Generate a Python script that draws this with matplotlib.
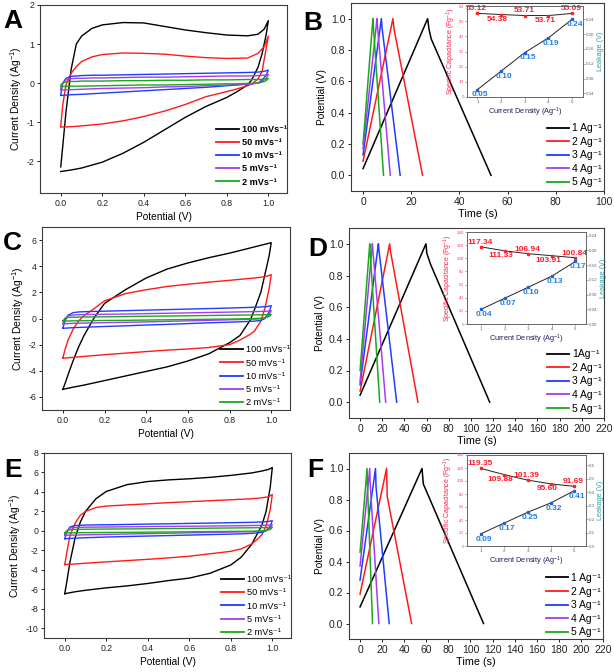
import matplotlib
matplotlib.use("Agg")
import matplotlib.pyplot as plt
import numpy as np

plt.rcParams['font.family'] = ['Liberation Sans', 'DejaVu Sans']
plt.rcParams['mathtext.fontset'] = 'custom'
plt.rcParams['mathtext.rm'] = 'Liberation Sans'
plt.rcParams['mathtext.it'] = 'Liberation Sans:italic'
plt.rcParams['mathtext.bf'] = 'Liberation Sans:bold'

COLORS = ['#000000', '#ff1a1a', '#1f3cff', '#a63cf0', '#1aa81a']

# ---------------- CV data (potential grid for forward / reverse sweep) ----------------
V_UP = [0.0, 0.01, 0.025, 0.05, 0.075, 0.1, 0.15, 0.2, 0.3, 0.4, 0.5, 0.6, 0.7, 0.8, 0.9, 0.95, 0.98, 1.0]
V_DN = [1.0, 0.99, 0.97, 0.95, 0.92, 0.9, 0.85, 0.8, 0.7, 0.6, 0.5, 0.4, 0.3, 0.2, 0.1, 0.05, 0.0]
CV_RATES = ['100', '50', '10', '5', '2']

A_UP = [
    [-2.15, -1.6, -0.75, 0.35, 1.0, 1.2, 1.4, 1.49, 1.55, 1.54, 1.45, 1.36, 1.29, 1.23, 1.21, 1.25, 1.38, 1.6],
    [-1.1, -0.55, -0.05, 0.25, 0.42, 0.55, 0.67, 0.73, 0.77, 0.76, 0.74, 0.69, 0.65, 0.63, 0.64, 0.76, 0.93, 1.2],
    [-0.3, 0.0, 0.12, 0.17, 0.18, 0.19, 0.2, 0.2, 0.21, 0.22, 0.23, 0.24, 0.25, 0.26, 0.27, 0.28, 0.3, 0.33],
    [-0.15, 0.0, 0.08, 0.11, 0.12, 0.12, 0.13, 0.13, 0.14, 0.15, 0.15, 0.16, 0.17, 0.18, 0.18, 0.19, 0.2, 0.22],
    [-0.05, 0.0, 0.03, 0.04, 0.04, 0.05, 0.05, 0.05, 0.06, 0.06, 0.07, 0.07, 0.08, 0.08, 0.09, 0.09, 0.1, 0.12],
]
A_DN = [
    [1.6, 1.25, 0.75, 0.4, 0.08, -0.05, -0.22, -0.37, -0.6, -0.88, -1.2, -1.52, -1.8, -2.03, -2.18, -2.23, -2.27],
    [1.2, 0.9, 0.3, 0.1, -0.02, -0.07, -0.15, -0.22, -0.35, -0.55, -0.72, -0.86, -0.97, -1.05, -1.1, -1.12, -1.13],
    [0.33, 0.2, 0.08, 0.0, -0.02, -0.03, -0.05, -0.07, -0.11, -0.14, -0.17, -0.2, -0.23, -0.26, -0.29, -0.3, -0.32],
    [0.22, 0.12, 0.04, 0.0, -0.02, -0.03, -0.04, -0.05, -0.07, -0.09, -0.1, -0.12, -0.13, -0.14, -0.16, -0.17, -0.18],
    [0.12, 0.06, 0.02, 0.0, -0.01, -0.01, -0.02, -0.02, -0.03, -0.04, -0.05, -0.05, -0.06, -0.07, -0.08, -0.08, -0.09],
]

C_UP = [
    [-5.42, -5.0, -4.3, -3.2, -2.2, -1.35, 0.05, 1.15, 2.2, 3.1, 3.78, 4.25, 4.65, 5.0, 5.4, 5.6, 5.72, 5.8],
    [-3.04, -2.4, -1.65, -0.8, -0.2, 0.2, 0.75, 1.35, 1.9, 2.2, 2.45, 2.62, 2.78, 2.92, 3.07, 3.15, 3.25, 3.35],
    [-0.75, -0.2, 0.25, 0.45, 0.5, 0.52, 0.54, 0.56, 0.6, 0.64, 0.68, 0.72, 0.76, 0.8, 0.85, 0.88, 0.92, 0.98],
    [-0.4, 0.0, 0.2, 0.27, 0.29, 0.3, 0.31, 0.32, 0.34, 0.37, 0.4, 0.43, 0.46, 0.49, 0.52, 0.54, 0.56, 0.6],
    [-0.2, 0.0, 0.08, 0.1, 0.11, 0.12, 0.12, 0.13, 0.15, 0.17, 0.19, 0.21, 0.23, 0.25, 0.27, 0.28, 0.29, 0.3],
]
C_DN = [
    [5.8, 4.8, 3.4, 2.0, 0.7, -0.1, -1.3, -1.85, -2.7, -3.25, -3.7, -4.05, -4.4, -4.75, -5.1, -5.25, -5.42],
    [3.35, 2.3, 0.8, -0.2, -0.95, -1.2, -1.65, -2.0, -2.22, -2.33, -2.42, -2.53, -2.65, -2.77, -2.9, -2.97, -3.04],
    [0.98, 0.5, 0.0, -0.15, -0.2, -0.22, -0.25, -0.28, -0.33, -0.39, -0.45, -0.5, -0.56, -0.61, -0.67, -0.7, -0.75],
    [0.6, 0.3, 0.05, -0.02, -0.05, -0.06, -0.08, -0.1, -0.14, -0.18, -0.22, -0.26, -0.29, -0.32, -0.35, -0.37, -0.4],
    [0.3, 0.15, 0.05, 0.02, 0.0, -0.01, -0.03, -0.04, -0.06, -0.08, -0.1, -0.12, -0.14, -0.15, -0.17, -0.18, -0.2],
]

E_UP = [
    [-6.45, -5.2, -3.2, -0.7, 0.9, 2.0, 3.3, 4.05, 4.75, 5.07, 5.24, 5.35, 5.5, 5.7, 5.95, 6.15, 6.3, 6.5],
    [-3.46, -2.2, -0.5, 0.8, 1.6, 2.0, 2.4, 2.55, 2.67, 2.78, 2.9, 3.0, 3.1, 3.2, 3.3, 3.4, 3.5, 3.73],
    [-0.8, -0.1, 0.4, 0.55, 0.58, 0.6, 0.62, 0.63, 0.66, 0.7, 0.73, 0.77, 0.8, 0.84, 0.88, 0.92, 0.97, 1.05],
    [-0.45, 0.0, 0.3, 0.35, 0.37, 0.38, 0.39, 0.4, 0.42, 0.44, 0.46, 0.48, 0.5, 0.52, 0.55, 0.57, 0.59, 0.63],
    [-0.2, 0.0, 0.12, 0.15, 0.16, 0.17, 0.18, 0.19, 0.2, 0.22, 0.24, 0.26, 0.28, 0.3, 0.32, 0.33, 0.34, 0.36],
]
E_DN = [
    [6.5, 4.5, 2.0, 0.6, -0.6, -1.4, -2.7, -3.5, -4.35, -4.85, -5.1, -5.4, -5.65, -5.85, -6.1, -6.25, -6.45],
    [3.73, 2.2, 0.5, -0.4, -1.0, -1.35, -1.85, -2.1, -2.35, -2.6, -2.77, -2.92, -3.05, -3.18, -3.32, -3.4, -3.46],
    [1.05, 0.5, 0.0, -0.15, -0.22, -0.25, -0.3, -0.33, -0.38, -0.43, -0.48, -0.53, -0.58, -0.63, -0.7, -0.75, -0.8],
    [0.63, 0.3, 0.05, -0.03, -0.06, -0.08, -0.1, -0.12, -0.16, -0.2, -0.24, -0.28, -0.32, -0.36, -0.4, -0.43, -0.45],
    [0.36, 0.15, 0.03, 0.0, -0.02, -0.03, -0.04, -0.05, -0.07, -0.09, -0.11, -0.13, -0.15, -0.16, -0.18, -0.19, -0.2],
]

# ---------------- GCD data ----------------
B_T = [[0, 26.8, 27.4, 28.3, 53.1], [0, 12.4, 12.9, 24.7], [0, 7.6, 7.9, 15.4], [0, 5.8, 6.0, 11.3], [0, 4.1, 4.3, 8.5]]
B_V = [[0.043, 1.0, 0.93, 0.87, 0.0], [0.09, 1.0, 0.93, 0.0], [0.13, 1.0, 0.94, 0.0], [0.17, 1.0, 0.95, 0.0], [0.2, 1.0, 0.95, 0.0]]
D_T = [[0, 59.4, 60.2, 63.6, 116.9], [0, 26.7, 27.5, 52.2], [0, 16.5, 17.0, 33.0], [0, 11.1, 11.5, 23.1], [0, 8.7, 9.0, 17.7]]
D_V = [[0.044, 1.0, 0.94, 0.87, 0.0], [0.07, 1.0, 0.95, 0.0], [0.11, 1.0, 0.96, 0.0], [0.13, 1.0, 0.96, 0.0], [0.2, 1.0, 0.96, 0.0]]
F_T = [[0, 56.1, 57.3, 111.8], [0, 24.0, 24.6, 46.7], [0, 14.0, 14.5, 26.4], [0, 8.8, 9.2, 17.0], [0, 6.4, 6.7, 11.3]]
F_V = [[0.107, 1.0, 0.90, 0.0], [0.19, 1.0, 0.82, 0.0], [0.28, 1.0, 0.88, 0.0], [0.37, 1.0, 0.90, 0.0], [0.46, 1.0, 0.90, 0.0]]
GCD_RATES = ['1', '2', '3', '4', '5']

# ---------------- inset data ----------------
CUR_DENS = [1, 2, 3, 4, 5]
B_CAP = [55.12, 54.38, 53.71, 53.71, 55.09]
B_LEAK = [0.05, 0.10, 0.15, 0.19, 0.24]
D_CAP = [117.34, 111.33, 106.94, 103.91, 100.84]
D_LEAK = [0.04, 0.07, 0.10, 0.13, 0.17]
F_CAP = [119.35, 109.88, 101.39, 95.60, 91.69]
F_LEAK = [0.09, 0.17, 0.25, 0.32, 0.41]

SUP = '\u207b\u00b9'

W, H = 614, 672
fig = plt.figure(figsize=(W / 100, H / 100), dpi=100)


def rect(l, t, r, b):
    return [l / W, 1 - b / H, (r - l) / W, (b - t) / H]


SPINE = '#3c3c3c'


def style_main(ax, tick_fs):
    for s in ax.spines.values():
        s.set_color(SPINE)
        s.set_linewidth(0.8)
    ax.tick_params(direction='out', length=2.5, width=0.7, colors='#222222',
                   labelsize=tick_fs, pad=1.5, top=False, right=False)


def cv_panel(r, up, dn, ylim, yticks, bold, legend_anchor):
    ax = fig.add_axes(rect(*r))
    for i in range(5):
        lab = CV_RATES[i] + ' mVs' + SUP
        ax.plot(V_UP + V_DN, up[i] + dn[i], color=COLORS[i], lw=1.0, label=lab)
    ax.set_xlim(-0.1, 1.09)
    ax.set_ylim(*ylim)
    ax.set_xticks([0.0, 0.2, 0.4, 0.6, 0.8, 1.0])
    ax.set_xticklabels(['0.0', '0.2', '0.4', '0.6', '0.8', '1.0'])
    ax.set_yticks(yticks)
    ax.set_yticklabels([str(v) for v in yticks])
    style_main(ax, 6.3)
    ax.set_xlabel('Potential (V)', fontsize=7.3, labelpad=3)
    ax.set_ylabel('Current Density (Ag$^{-1}$)', fontsize=7.5, labelpad=2)
    leg = ax.legend(loc='lower right', bbox_to_anchor=legend_anchor, frameon=False,
                    handlelength=2.5, handletextpad=0.3, labelspacing=0.46,
                    borderaxespad=0.3,
                    prop={'weight': 'bold', 'size': 6.6} if bold else {'size': 6.6})
    for l in leg.get_lines():
        l.set_linewidth(1.3)
    return ax


def gcd_panel(r, ts, vs, xmax, xticks, first_label, legend_anchor):
    ax = fig.add_axes(rect(*r))
    for i in range(5):
        lab = (first_label if i == 0 else GCD_RATES[i] + ' Ag') + SUP
        ax.plot(ts[i], vs[i], color=COLORS[i], lw=1.1, label=lab)
    ax.set_xlim(-5 if xmax == 100 else -10, xmax)
    ax.set_ylim(-0.1, 1.1)
    ax.set_xticks(xticks)
    ax.set_xticklabels([str(v) for v in xticks])
    ax.set_yticks([0.0, 0.2, 0.4, 0.6, 0.8, 1.0])
    ax.set_yticklabels(['0.0', '0.2', '0.4', '0.6', '0.8', '1.0'])
    style_main(ax, 7.5)
    ax.set_xlabel('Time (s)', fontsize=7.8, labelpad=2)
    ax.set_ylabel('Potential (V)', fontsize=7.3, labelpad=3)
    leg = ax.legend(loc='lower right', bbox_to_anchor=legend_anchor, frameon=False,
                    fontsize=7.5, handlelength=2.1, handletextpad=0.3, labelspacing=0.34,
                    borderaxespad=0.3)
    for l in leg.get_lines():
        l.set_linewidth(1.3)
    return ax


def inset(r, cap, leak, cap_max, cap_step, leak_lim, leak_ticks, leak_fmt, xlim):
    ax = fig.add_axes(rect(*r))
    ax2 = ax.twinx()
    ax.plot(CUR_DENS, cap, color='#222222', lw=0.7, marker='s', ms=1.7,
            mfc='#ff2020', mec='#ff2020')
    ax2.plot(CUR_DENS, leak, color='#222222', lw=0.7, marker='s', ms=1.7,
             mfc='#2060e0', mec='#2060e0')
    ax.set_xlim(*xlim)
    ax.set_ylim(0, cap_max)
    ax.set_yticks(np.arange(0, cap_max + 0.1, cap_step))
    ax.set_xticks(CUR_DENS)
    ax2.set_ylim(*leak_lim)
    ax2.set_yticks(leak_ticks)
    ax2.set_yticklabels([leak_fmt.format(v) for v in leak_ticks])
    for a in (ax, ax2):
        for s in a.spines.values():
            s.set_color('#666666')
            s.set_linewidth(0.6)
    ax.tick_params(axis='y', direction='out', length=1.2, width=0.4, labelsize=3.2,
                   colors='#666666', labelcolor='#ff4060', pad=1)
    ax.tick_params(axis='x', direction='out', length=1.2, width=0.4, labelsize=3.2,
                   colors='#555555', pad=1)
    ax2.tick_params(axis='y', direction='out', length=1.2, width=0.4, labelsize=3.2,
                    colors='#666666', labelcolor='#666666', pad=1)
    ax.set_ylabel('Specific Capacitance (Fg$^{-1}$)', fontsize=5.0, color='#ff2050', labelpad=1)
    ax2.set_ylabel('Leakage (V)', fontsize=5.2, color='#30a0a0', labelpad=1.5)
    ax.set_xlabel('Current Density (Ag$^{-1}$)', fontsize=5.3, color='#20205a', labelpad=1.5)
    for i in range(5):
        if i % 2 == 0:
            ax.annotate(f'{cap[i]:.2f}', (CUR_DENS[i], cap[i]), xytext=(-0.5, 0.8),
                        textcoords='offset points', ha='center', va='bottom',
                        fontsize=6.0, color='#ff1a2a', fontweight='bold')
        else:
            ax.annotate(f'{cap[i]:.2f}', (CUR_DENS[i], cap[i]), xytext=(-2.5, -0.8),
                        textcoords='offset points', ha='center', va='top',
                        fontsize=6.0, color='#ff1a2a', fontweight='bold')
        ax2.annotate(f'{leak[i]:.2f}', (CUR_DENS[i], leak[i]), xytext=(2.0, -1.3),
                     textcoords='offset points', ha='center', va='top',
                     fontsize=6.0, color='#2080e0', fontweight='bold')
    return ax


cv_panel((40, 5, 287, 193), A_UP, A_DN, (-2.82, 2.0), [-2, -1, 0, 1, 2], True, (1.025, 0.0))
cv_panel((42, 227, 290, 410), C_UP, C_DN, (-7, 7), [-6, -4, -2, 0, 2, 4, 6], False, (1.025, -0.02))
cv_panel((44, 453, 291, 638), E_UP, E_DN, (-11, 8), [-10, -8, -6, -4, -2, 0, 2, 4, 6, 8], False, (1.025, -0.03))

gcd_panel((351, 3, 604, 191), B_T, B_V, 100, [0, 20, 40, 60, 80, 100], '1 Ag', (1.02, -0.02))
gcd_panel((349, 228, 604, 418), D_T, D_V, 220, list(range(0, 221, 20)), '1Ag', (1.02, -0.015))
gcd_panel((349, 453, 603, 639), F_T, F_V, 220, list(range(0, 221, 20)), '1 Ag', (1.02, -0.03))

inset((467, 6, 583, 97), B_CAP, B_LEAK, 60, 10, (0.03, 0.276),
      [0.04, 0.08, 0.12, 0.16, 0.20, 0.24], '{:.2f}', (0.56, 5.46))
inset((467, 232, 586, 324), D_CAP, D_LEAK, 140, 20, (0.0, 0.25),
      [0.0, 0.04, 0.08, 0.12, 0.16, 0.20, 0.24], '{:.2f}', (0.4, 5.45))
inset((467, 455, 586, 546), F_CAP, F_LEAK, 140, 20, (0.0, 0.675),
      [0.0, 0.1, 0.2, 0.3, 0.4, 0.5, 0.6], '{:.1f}', (0.41, 5.5))

for letter, x, y in [('A', 3, 28), ('B', 303, 30), ('C', 3, 250), ('D', 308, 256), ('E', 4, 477), ('F', 307, 477)]:
    fig.text(x / W, 1 - y / H, letter, fontsize=19, fontweight='bold', ha='left', va='baseline')

fig.savefig('out.png', dpi=100)
